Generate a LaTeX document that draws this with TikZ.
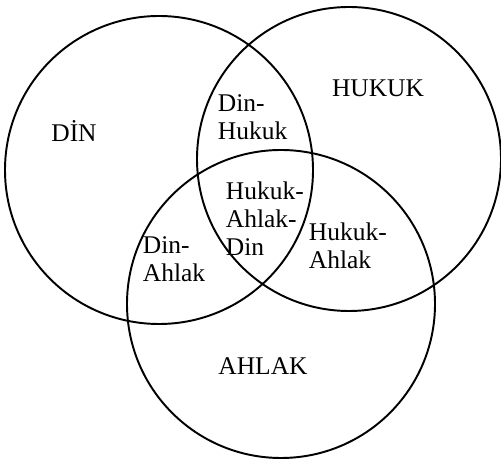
\documentclass[tikz,border=0pt]{standalone}
\usepackage{fontspec}
\setmainfont{Liberation Serif}
\usetikzlibrary{positioning}

\begin{document}
\begin{tikzpicture}[x=0.02cm, y=-0.02cm, line width=1.1pt,
    lbl/.style={inner sep=0pt, font=\fontsize{14.5}{16}\selectfont},
    part/.style={lbl, align=left, anchor=west}]
  \useasboundingbox (0,0) rectangle (501,462);
  % the three sets
  \draw (159,170) circle (154);
  \draw (349,159) circle (152);
  \draw (281,304) circle (154);
  % set names
  \node[lbl] (din)    at (74,131)  {DİN};
  \node[lbl] (hukuk)  at (378,88)  {HUKUK};
  \node[lbl] (ahlak)  at (263,366) {AHLAK};
  % overlaps
  \node[part] (dinhukuk)   at (217,117) {Din-\\Hukuk};
  \node[part] (ortak)      at (225,219) {Hukuk-\\Ahlak-\\Din};
  \node[part] (hukukahlak) at (308,246) {Hukuk-\\Ahlak};
  \node[part] (dinahlak)   at (142,259) {Din-\\Ahlak};
\end{tikzpicture}
\end{document}
